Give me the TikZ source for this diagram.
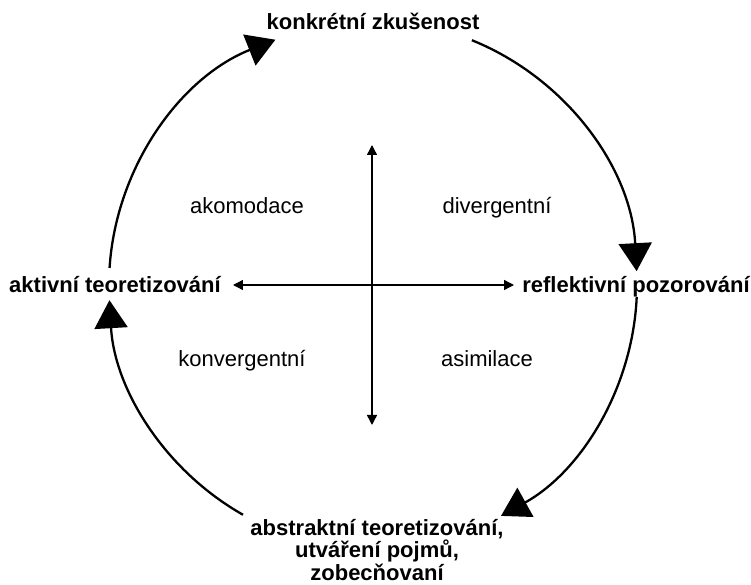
\documentclass[tikz,border=0pt]{standalone}
\usepackage{fontspec}
\setmainfont{Liberation Sans}
\usetikzlibrary{arrows.meta}

\begin{document}
\begin{tikzpicture}[
    x=1bp, y=1bp,
    pole/.style={
        font=\fontsize{22bp}{22.5bp}\selectfont\bfseries,
        inner sep=0pt, anchor=base, align=center
    },
    styl/.style={
        font=\fontsize{22bp}{22.5bp}\selectfont,
        inner sep=0pt, anchor=base
    },
    cyklus/.style={line width=2.3bp, -{Triangle[length=28bp, width=33bp]}},
    osa/.style={line width=1.4bp, {Triangle[length=10bp, width=10bp]}-{Triangle[length=10bp, width=10bp]}}
]
\useasboundingbox (-373,-300) rectangle (378,285);

% Poles
\node[pole] (konkr) at (0,255) {konkrétní zkušenost};
\node[pole] (refl)  at (263,-8) {reflektivní pozorování};
\node[pole] (abstr) at (4,-295) {abstraktní teoretizování,\\utváření pojmů,\\zobecňovaní};
\node[pole] (aktiv) at (-258,-8) {aktivní teoretizování};

% Learning styles
\node[styl] (akom) at (-126,71)  {akomodace};
\node[styl] (div)  at (124,71)   {divergentní};
\node[styl] (konv) at (-131,-82) {konvergentní};
\node[styl] (asim) at (114,-82)  {asimilace};

% Axes
\coordinate (osaN) at (-1,140);
\coordinate (osaS) at (-1,-140);
\coordinate (osaW) at (-140,0);
\coordinate (osaE) at (141,0);
\draw[osa] (osaS) -- (osaN);
\draw[osa] (osaW) -- (osaE);

% Cycle
\coordinate (c1) at (68:264);
\coordinate (c2) at (-2.6:264);
\coordinate (c3) at (240.5:264);
\coordinate (c4) at (176.3:264);
\draw[cyklus] (c1) arc[start angle=68, end angle=3, radius=264bp];
\draw[cyklus] (c2) arc[start angle=-2.6, end angle=-61, radius=264bp];
\draw[cyklus] (c3) arc[start angle=240.5, end angle=183.3, radius=264bp];
\draw[cyklus] (c4) arc[start angle=176.3, end angle=111.7, radius=264bp];

\end{tikzpicture}
\end{document}
